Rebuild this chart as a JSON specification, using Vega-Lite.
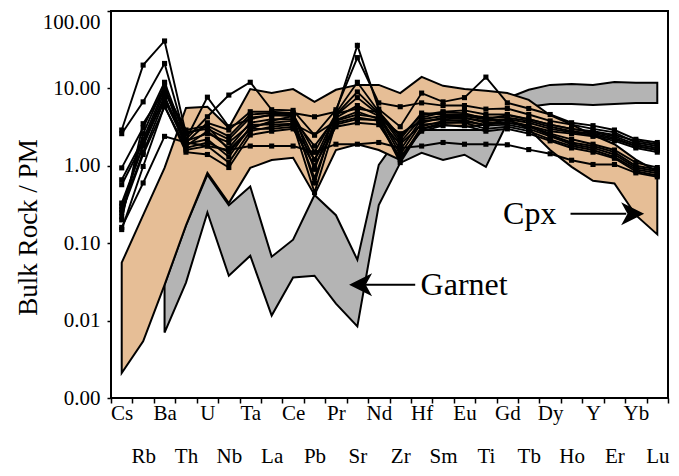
{
  "$schema": "https://vega.github.io/schema/vega-lite/v6.json",
  "width": 557,
  "height": 387,
  "autosize": "none",
  "padding": {"left": 111, "top": 11, "right": 11, "bottom": 78},
  "background": "white",
  "config": {
    "font": "Liberation Serif",
    "view": {"stroke": "black", "strokeWidth": 2}
  },
  "datasets": {
    "fields": [
      {"field": "Garnet", "el": "Ba", "lo": 0.007, "hi": 0.029},
      {"field": "Garnet", "el": "Th", "lo": 0.031, "hi": 0.17},
      {"field": "Garnet", "el": "U", "lo": 0.25, "hi": 0.77},
      {"field": "Garnet", "el": "Nb", "lo": 0.038, "hi": 0.31},
      {"field": "Garnet", "el": "Ta", "lo": 0.069, "hi": 0.54},
      {"field": "Garnet", "el": "La", "lo": 0.0116, "hi": 0.067},
      {"field": "Garnet", "el": "Ce", "lo": 0.036, "hi": 0.111},
      {"field": "Garnet", "el": "Pb", "lo": 0.038, "hi": 0.42},
      {"field": "Garnet", "el": "Pr", "lo": 0.0166, "hi": 0.23},
      {"field": "Garnet", "el": "Sr", "lo": 0.0084, "hi": 0.061},
      {"field": "Garnet", "el": "Nd", "lo": 0.31, "hi": 1.03},
      {"field": "Garnet", "el": "Zr", "lo": 1.09, "hi": 2.5},
      {"field": "Garnet", "el": "Hf", "lo": 1.47, "hi": 2.9},
      {"field": "Garnet", "el": "Sm", "lo": 1.19, "hi": 2.9},
      {"field": "Garnet", "el": "Eu", "lo": 1.39, "hi": 2.9},
      {"field": "Garnet", "el": "Ti", "lo": 0.97, "hi": 2.9},
      {"field": "Garnet", "el": "Gd", "lo": 3.6, "hi": 7.5},
      {"field": "Garnet", "el": "Tb", "lo": 5.8, "hi": 9.6},
      {"field": "Garnet", "el": "Dy", "lo": 6.3, "hi": 11.1},
      {"field": "Garnet", "el": "Ho", "lo": 6.3, "hi": 11.4},
      {"field": "Garnet", "el": "Y", "lo": 6.1, "hi": 11.1},
      {"field": "Garnet", "el": "Er", "lo": 6.3, "hi": 12.1},
      {"field": "Garnet", "el": "Yb", "lo": 6.5, "hi": 11.8},
      {"field": "Garnet", "el": "Lu", "lo": 6.5, "hi": 11.8},
      {"field": "Cpx", "el": "Cs", "lo": 0.0021, "hi": 0.056},
      {"field": "Cpx", "el": "Rb", "lo": 0.0054, "hi": 0.23},
      {"field": "Cpx", "el": "Ba", "lo": 0.029, "hi": 0.94},
      {"field": "Cpx", "el": "Th", "lo": 0.17, "hi": 5.6},
      {"field": "Cpx", "el": "U", "lo": 0.81, "hi": 5.8},
      {"field": "Cpx", "el": "Nb", "lo": 0.33, "hi": 3.1},
      {"field": "Cpx", "el": "Ta", "lo": 0.94, "hi": 9.8},
      {"field": "Cpx", "el": "La", "lo": 1.19, "hi": 8.7},
      {"field": "Cpx", "el": "Ce", "lo": 1.27, "hi": 9.8},
      {"field": "Cpx", "el": "Pb", "lo": 0.42, "hi": 6.7},
      {"field": "Cpx", "el": "Pr", "lo": 1.6, "hi": 9.6},
      {"field": "Cpx", "el": "Sr", "lo": 1.9, "hi": 11.1},
      {"field": "Cpx", "el": "Nd", "lo": 1.6, "hi": 11.1},
      {"field": "Cpx", "el": "Zr", "lo": 1.19, "hi": 8.7},
      {"field": "Cpx", "el": "Hf", "lo": 3.0, "hi": 14.1},
      {"field": "Cpx", "el": "Sm", "lo": 3.4, "hi": 10.8},
      {"field": "Cpx", "el": "Eu", "lo": 3.2, "hi": 9.8},
      {"field": "Cpx", "el": "Ti", "lo": 3.4, "hi": 9.3},
      {"field": "Cpx", "el": "Gd", "lo": 4.0, "hi": 8.7},
      {"field": "Cpx", "el": "Tb", "lo": 3.0, "hi": 7.1},
      {"field": "Cpx", "el": "Dy", "lo": 1.6, "hi": 4.5},
      {"field": "Cpx", "el": "Ho", "lo": 0.97, "hi": 3.4},
      {"field": "Cpx", "el": "Y", "lo": 0.64, "hi": 2.5},
      {"field": "Cpx", "el": "Er", "lo": 0.59, "hi": 1.9},
      {"field": "Cpx", "el": "Yb", "lo": 0.23, "hi": 1.2},
      {"field": "Cpx", "el": "Lu", "lo": 0.13, "hi": 0.84}
    ],
    "samples": [
      {"sample": "S1", "el": "Cs", "v": 2.9}, {"sample": "S1", "el": "Rb", "v": 20}, {"sample": "S1", "el": "Ba", "v": 41}, {"sample": "S1", "el": "Th", "v": 2.6}, {"sample": "S1", "el": "U", "v": 3.2}, {"sample": "S1", "el": "Nb", "v": 1.6}, {"sample": "S1", "el": "Ta", "v": 3.0}, {"sample": "S1", "el": "La", "v": 3.8}, {"sample": "S1", "el": "Ce", "v": 4.4}, {"sample": "S1", "el": "Pb", "v": 1.2}, {"sample": "S1", "el": "Pr", "v": 4.6}, {"sample": "S1", "el": "Sr", "v": 9.0}, {"sample": "S1", "el": "Nd", "v": 4.8}, {"sample": "S1", "el": "Zr", "v": 2.0}, {"sample": "S1", "el": "Hf", "v": 4.2}, {"sample": "S1", "el": "Sm", "v": 4.9}, {"sample": "S1", "el": "Eu", "v": 4.8}, {"sample": "S1", "el": "Ti", "v": 4.0}, {"sample": "S1", "el": "Gd", "v": 4.5}, {"sample": "S1", "el": "Tb", "v": 4.0}, {"sample": "S1", "el": "Dy", "v": 3.4}, {"sample": "S1", "el": "Ho", "v": 3.0}, {"sample": "S1", "el": "Y", "v": 2.8}, {"sample": "S1", "el": "Er", "v": 2.5}, {"sample": "S1", "el": "Yb", "v": 2.1}, {"sample": "S1", "el": "Lu", "v": 1.9},
      {"sample": "S2", "el": "Cs", "v": 2.6}, {"sample": "S2", "el": "Rb", "v": 6.7}, {"sample": "S2", "el": "Ba", "v": 21}, {"sample": "S2", "el": "Th", "v": 2.2}, {"sample": "S2", "el": "U", "v": 7.7}, {"sample": "S2", "el": "Nb", "v": 3.2}, {"sample": "S2", "el": "Ta", "v": 4.0}, {"sample": "S2", "el": "La", "v": 4.6}, {"sample": "S2", "el": "Ce", "v": 4.8}, {"sample": "S2", "el": "Pb", "v": 4.3}, {"sample": "S2", "el": "Pr", "v": 5.0}, {"sample": "S2", "el": "Sr", "v": 36}, {"sample": "S2", "el": "Nd", "v": 5.4}, {"sample": "S2", "el": "Zr", "v": 3.2}, {"sample": "S2", "el": "Hf", "v": 8.7}, {"sample": "S2", "el": "Sm", "v": 6.7}, {"sample": "S2", "el": "Eu", "v": 7.6}, {"sample": "S2", "el": "Ti", "v": 14}, {"sample": "S2", "el": "Gd", "v": 6.5}, {"sample": "S2", "el": "Tb", "v": 5.5}, {"sample": "S2", "el": "Dy", "v": 4.6}, {"sample": "S2", "el": "Ho", "v": 3.6}, {"sample": "S2", "el": "Y", "v": 3.3}, {"sample": "S2", "el": "Er", "v": 2.9}, {"sample": "S2", "el": "Yb", "v": 2.2}, {"sample": "S2", "el": "Lu", "v": 2.0},
      {"sample": "S3", "el": "Cs", "v": 0.94}, {"sample": "S3", "el": "Rb", "v": 3.1}, {"sample": "S3", "el": "Ba", "v": 12}, {"sample": "S3", "el": "Th", "v": 2.2}, {"sample": "S3", "el": "U", "v": 4.3}, {"sample": "S3", "el": "Nb", "v": 8.2}, {"sample": "S3", "el": "Ta", "v": 12}, {"sample": "S3", "el": "La", "v": 5.3}, {"sample": "S3", "el": "Ce", "v": 5.2}, {"sample": "S3", "el": "Pb", "v": 2.5}, {"sample": "S3", "el": "Pr", "v": 5.3}, {"sample": "S3", "el": "Sr", "v": 25}, {"sample": "S3", "el": "Nd", "v": 6.5}, {"sample": "S3", "el": "Zr", "v": 5.8}, {"sample": "S3", "el": "Hf", "v": 6.5}, {"sample": "S3", "el": "Sm", "v": 6.0}, {"sample": "S3", "el": "Eu", "v": 6.0}, {"sample": "S3", "el": "Ti", "v": 5.4}, {"sample": "S3", "el": "Gd", "v": 5.5}, {"sample": "S3", "el": "Tb", "v": 4.6}, {"sample": "S3", "el": "Dy", "v": 3.8}, {"sample": "S3", "el": "Ho", "v": 3.4}, {"sample": "S3", "el": "Y", "v": 3.0}, {"sample": "S3", "el": "Er", "v": 2.7}, {"sample": "S3", "el": "Yb", "v": 2.0}, {"sample": "S3", "el": "Lu", "v": 1.8},
      {"sample": "S4", "el": "Cs", "v": 0.66}, {"sample": "S4", "el": "Rb", "v": 2.2}, {"sample": "S4", "el": "Ba", "v": 10}, {"sample": "S4", "el": "Th", "v": 2.0}, {"sample": "S4", "el": "U", "v": 3.6}, {"sample": "S4", "el": "Nb", "v": 2.9}, {"sample": "S4", "el": "Ta", "v": 5.0}, {"sample": "S4", "el": "La", "v": 5.0}, {"sample": "S4", "el": "Ce", "v": 4.8}, {"sample": "S4", "el": "Pb", "v": 0.9}, {"sample": "S4", "el": "Pr", "v": 4.8}, {"sample": "S4", "el": "Sr", "v": 12}, {"sample": "S4", "el": "Nd", "v": 5.0}, {"sample": "S4", "el": "Zr", "v": 2.4}, {"sample": "S4", "el": "Hf", "v": 4.5}, {"sample": "S4", "el": "Sm", "v": 5.0}, {"sample": "S4", "el": "Eu", "v": 5.2}, {"sample": "S4", "el": "Ti", "v": 4.6}, {"sample": "S4", "el": "Gd", "v": 4.6}, {"sample": "S4", "el": "Tb", "v": 4.0}, {"sample": "S4", "el": "Dy", "v": 3.4}, {"sample": "S4", "el": "Ho", "v": 3.0}, {"sample": "S4", "el": "Y", "v": 2.7}, {"sample": "S4", "el": "Er", "v": 2.4}, {"sample": "S4", "el": "Yb", "v": 1.9}, {"sample": "S4", "el": "Lu", "v": 1.7},
      {"sample": "S5", "el": "Cs", "v": 0.57}, {"sample": "S5", "el": "Rb", "v": 2.0}, {"sample": "S5", "el": "Ba", "v": 9.0}, {"sample": "S5", "el": "Th", "v": 2.7}, {"sample": "S5", "el": "U", "v": 3.0}, {"sample": "S5", "el": "Nb", "v": 2.2}, {"sample": "S5", "el": "Ta", "v": 4.2}, {"sample": "S5", "el": "La", "v": 4.5}, {"sample": "S5", "el": "Ce", "v": 4.4}, {"sample": "S5", "el": "Pb", "v": 0.6}, {"sample": "S5", "el": "Pr", "v": 4.5}, {"sample": "S5", "el": "Sr", "v": 7.6}, {"sample": "S5", "el": "Nd", "v": 4.6}, {"sample": "S5", "el": "Zr", "v": 1.6}, {"sample": "S5", "el": "Hf", "v": 4.0}, {"sample": "S5", "el": "Sm", "v": 4.4}, {"sample": "S5", "el": "Eu", "v": 4.4}, {"sample": "S5", "el": "Ti", "v": 4.0}, {"sample": "S5", "el": "Gd", "v": 3.8}, {"sample": "S5", "el": "Tb", "v": 3.3}, {"sample": "S5", "el": "Dy", "v": 2.6}, {"sample": "S5", "el": "Ho", "v": 2.2}, {"sample": "S5", "el": "Y", "v": 1.9}, {"sample": "S5", "el": "Er", "v": 1.6}, {"sample": "S5", "el": "Yb", "v": 1.1}, {"sample": "S5", "el": "Lu", "v": 0.95},
      {"sample": "S6", "el": "Cs", "v": 0.33}, {"sample": "S6", "el": "Rb", "v": 1.8}, {"sample": "S6", "el": "Ba", "v": 8.0}, {"sample": "S6", "el": "Th", "v": 1.8}, {"sample": "S6", "el": "U", "v": 2.8}, {"sample": "S6", "el": "Nb", "v": 1.7}, {"sample": "S6", "el": "Ta", "v": 3.6}, {"sample": "S6", "el": "La", "v": 4.0}, {"sample": "S6", "el": "Ce", "v": 4.0}, {"sample": "S6", "el": "Pb", "v": 1.8}, {"sample": "S6", "el": "Pr", "v": 4.2}, {"sample": "S6", "el": "Sr", "v": 6.0}, {"sample": "S6", "el": "Nd", "v": 4.4}, {"sample": "S6", "el": "Zr", "v": 1.4}, {"sample": "S6", "el": "Hf", "v": 3.6}, {"sample": "S6", "el": "Sm", "v": 4.2}, {"sample": "S6", "el": "Eu", "v": 4.2}, {"sample": "S6", "el": "Ti", "v": 3.6}, {"sample": "S6", "el": "Gd", "v": 3.6}, {"sample": "S6", "el": "Tb", "v": 3.2}, {"sample": "S6", "el": "Dy", "v": 2.5}, {"sample": "S6", "el": "Ho", "v": 2.0}, {"sample": "S6", "el": "Y", "v": 1.8}, {"sample": "S6", "el": "Er", "v": 1.5}, {"sample": "S6", "el": "Yb", "v": 1.0}, {"sample": "S6", "el": "Lu", "v": 0.9},
      {"sample": "S7", "el": "Cs", "v": 0.27}, {"sample": "S7", "el": "Rb", "v": 1.5}, {"sample": "S7", "el": "Ba", "v": 7.0}, {"sample": "S7", "el": "Th", "v": 1.9}, {"sample": "S7", "el": "U", "v": 2.2}, {"sample": "S7", "el": "Nb", "v": 1.3}, {"sample": "S7", "el": "Ta", "v": 3.2}, {"sample": "S7", "el": "La", "v": 3.6}, {"sample": "S7", "el": "Ce", "v": 3.8}, {"sample": "S7", "el": "Pb", "v": 0.7}, {"sample": "S7", "el": "Pr", "v": 3.9}, {"sample": "S7", "el": "Sr", "v": 5.0}, {"sample": "S7", "el": "Nd", "v": 4.0}, {"sample": "S7", "el": "Zr", "v": 1.2}, {"sample": "S7", "el": "Hf", "v": 3.2}, {"sample": "S7", "el": "Sm", "v": 3.8}, {"sample": "S7", "el": "Eu", "v": 3.9}, {"sample": "S7", "el": "Ti", "v": 3.3}, {"sample": "S7", "el": "Gd", "v": 3.4}, {"sample": "S7", "el": "Tb", "v": 3.0}, {"sample": "S7", "el": "Dy", "v": 2.4}, {"sample": "S7", "el": "Ho", "v": 1.9}, {"sample": "S7", "el": "Y", "v": 1.7}, {"sample": "S7", "el": "Er", "v": 1.4}, {"sample": "S7", "el": "Yb", "v": 0.95}, {"sample": "S7", "el": "Lu", "v": 0.85},
      {"sample": "S8", "el": "Cs", "v": 0.22}, {"sample": "S8", "el": "Rb", "v": 2.6}, {"sample": "S8", "el": "Ba", "v": 11}, {"sample": "S8", "el": "Th", "v": 1.6}, {"sample": "S8", "el": "U", "v": 1.8}, {"sample": "S8", "el": "Nb", "v": 1.1}, {"sample": "S8", "el": "Ta", "v": 2.8}, {"sample": "S8", "el": "La", "v": 3.2}, {"sample": "S8", "el": "Ce", "v": 3.4}, {"sample": "S8", "el": "Pb", "v": 0.45}, {"sample": "S8", "el": "Pr", "v": 3.6}, {"sample": "S8", "el": "Sr", "v": 4.2}, {"sample": "S8", "el": "Nd", "v": 3.8}, {"sample": "S8", "el": "Zr", "v": 1.1}, {"sample": "S8", "el": "Hf", "v": 3.0}, {"sample": "S8", "el": "Sm", "v": 3.6}, {"sample": "S8", "el": "Eu", "v": 3.6}, {"sample": "S8", "el": "Ti", "v": 3.0}, {"sample": "S8", "el": "Gd", "v": 3.2}, {"sample": "S8", "el": "Tb", "v": 2.8}, {"sample": "S8", "el": "Dy", "v": 2.2}, {"sample": "S8", "el": "Ho", "v": 1.8}, {"sample": "S8", "el": "Y", "v": 1.6}, {"sample": "S8", "el": "Er", "v": 1.3}, {"sample": "S8", "el": "Yb", "v": 0.9}, {"sample": "S8", "el": "Lu", "v": 0.8},
      {"sample": "S9", "el": "Cs", "v": 0.15}, {"sample": "S9", "el": "Rb", "v": 0.98}, {"sample": "S9", "el": "Ba", "v": 6.0}, {"sample": "S9", "el": "Th", "v": 1.5}, {"sample": "S9", "el": "U", "v": 1.4}, {"sample": "S9", "el": "Nb", "v": 0.95}, {"sample": "S9", "el": "Ta", "v": 2.5}, {"sample": "S9", "el": "La", "v": 2.8}, {"sample": "S9", "el": "Ce", "v": 3.0}, {"sample": "S9", "el": "Pb", "v": 1.0}, {"sample": "S9", "el": "Pr", "v": 3.2}, {"sample": "S9", "el": "Sr", "v": 3.6}, {"sample": "S9", "el": "Nd", "v": 3.4}, {"sample": "S9", "el": "Zr", "v": 1.3}, {"sample": "S9", "el": "Hf", "v": 2.8}, {"sample": "S9", "el": "Sm", "v": 3.3}, {"sample": "S9", "el": "Eu", "v": 3.3}, {"sample": "S9", "el": "Ti", "v": 2.8}, {"sample": "S9", "el": "Gd", "v": 3.0}, {"sample": "S9", "el": "Tb", "v": 2.6}, {"sample": "S9", "el": "Dy", "v": 2.1}, {"sample": "S9", "el": "Ho", "v": 1.7}, {"sample": "S9", "el": "Y", "v": 1.5}, {"sample": "S9", "el": "Er", "v": 1.25}, {"sample": "S9", "el": "Yb", "v": 0.85}, {"sample": "S9", "el": "Lu", "v": 0.75},
      {"sample": "S10", "el": "Cs", "v": 0.2}, {"sample": "S10", "el": "Rb", "v": 3.5}, {"sample": "S10", "el": "Ba", "v": 9.5}, {"sample": "S10", "el": "Th", "v": 2.9}, {"sample": "S10", "el": "U", "v": 3.3}, {"sample": "S10", "el": "Nb", "v": 2.4}, {"sample": "S10", "el": "Ta", "v": 4.6}, {"sample": "S10", "el": "La", "v": 4.8}, {"sample": "S10", "el": "Ce", "v": 4.6}, {"sample": "S10", "el": "Pb", "v": 1.5}, {"sample": "S10", "el": "Pr", "v": 4.7}, {"sample": "S10", "el": "Sr", "v": 5.5}, {"sample": "S10", "el": "Nd", "v": 4.9}, {"sample": "S10", "el": "Zr", "v": 2.2}, {"sample": "S10", "el": "Hf", "v": 4.8}, {"sample": "S10", "el": "Sm", "v": 4.6}, {"sample": "S10", "el": "Eu", "v": 4.6}, {"sample": "S10", "el": "Ti", "v": 4.2}, {"sample": "S10", "el": "Gd", "v": 4.2}, {"sample": "S10", "el": "Tb", "v": 3.8}, {"sample": "S10", "el": "Dy", "v": 3.2}, {"sample": "S10", "el": "Ho", "v": 2.8}, {"sample": "S10", "el": "Y", "v": 2.6}, {"sample": "S10", "el": "Er", "v": 2.3}, {"sample": "S10", "el": "Yb", "v": 1.8}, {"sample": "S10", "el": "Lu", "v": 1.6},
      {"sample": "S11", "el": "Cs", "v": 0.3}, {"sample": "S11", "el": "Rb", "v": 1.9}, {"sample": "S11", "el": "Ba", "v": 7.5}, {"sample": "S11", "el": "Th", "v": 2.1}, {"sample": "S11", "el": "U", "v": 2.6}, {"sample": "S11", "el": "Nb", "v": 2.0}, {"sample": "S11", "el": "Ta", "v": 3.4}, {"sample": "S11", "el": "La", "v": 3.4}, {"sample": "S11", "el": "Ce", "v": 3.5}, {"sample": "S11", "el": "Pb", "v": 2.5}, {"sample": "S11", "el": "Pr", "v": 3.8}, {"sample": "S11", "el": "Sr", "v": 4.6}, {"sample": "S11", "el": "Nd", "v": 4.2}, {"sample": "S11", "el": "Zr", "v": 2.6}, {"sample": "S11", "el": "Hf", "v": 3.8}, {"sample": "S11", "el": "Sm", "v": 4.0}, {"sample": "S11", "el": "Eu", "v": 4.1}, {"sample": "S11", "el": "Ti", "v": 3.8}, {"sample": "S11", "el": "Gd", "v": 4.0}, {"sample": "S11", "el": "Tb", "v": 3.6}, {"sample": "S11", "el": "Dy", "v": 3.0}, {"sample": "S11", "el": "Ho", "v": 2.7}, {"sample": "S11", "el": "Y", "v": 2.5}, {"sample": "S11", "el": "Er", "v": 2.2}, {"sample": "S11", "el": "Yb", "v": 1.8}, {"sample": "S11", "el": "Lu", "v": 1.6},
      {"sample": "S12", "el": "Cs", "v": 0.25}, {"sample": "S12", "el": "Rb", "v": 1.4}, {"sample": "S12", "el": "Ba", "v": 5.8}, {"sample": "S12", "el": "Th", "v": 1.7}, {"sample": "S12", "el": "U", "v": 2.0}, {"sample": "S12", "el": "Nb", "v": 1.5}, {"sample": "S12", "el": "Ta", "v": 3.0}, {"sample": "S12", "el": "La", "v": 3.0}, {"sample": "S12", "el": "Ce", "v": 3.2}, {"sample": "S12", "el": "Pb", "v": 1.2}, {"sample": "S12", "el": "Pr", "v": 3.4}, {"sample": "S12", "el": "Sr", "v": 4.0}, {"sample": "S12", "el": "Nd", "v": 3.9}, {"sample": "S12", "el": "Zr", "v": 1.9}, {"sample": "S12", "el": "Hf", "v": 3.4}, {"sample": "S12", "el": "Sm", "v": 3.6}, {"sample": "S12", "el": "Eu", "v": 3.7}, {"sample": "S12", "el": "Ti", "v": 3.4}, {"sample": "S12", "el": "Gd", "v": 3.6}, {"sample": "S12", "el": "Tb", "v": 3.3}, {"sample": "S12", "el": "Dy", "v": 2.8}, {"sample": "S12", "el": "Ho", "v": 2.6}, {"sample": "S12", "el": "Y", "v": 2.4}, {"sample": "S12", "el": "Er", "v": 2.1}, {"sample": "S12", "el": "Yb", "v": 1.7}, {"sample": "S12", "el": "Lu", "v": 1.5},
      {"sample": "S13", "el": "Cs", "v": 0.16}, {"sample": "S13", "el": "Rb", "v": 0.6}, {"sample": "S13", "el": "Ba", "v": 2.4}, {"sample": "S13", "el": "Th", "v": 2.0}, {"sample": "S13", "el": "U", "v": 1.8}, {"sample": "S13", "el": "Nb", "v": 1.6}, {"sample": "S13", "el": "Ta", "v": 1.8}, {"sample": "S13", "el": "La", "v": 1.8}, {"sample": "S13", "el": "Ce", "v": 1.8}, {"sample": "S13", "el": "Pb", "v": 1.5}, {"sample": "S13", "el": "Pr", "v": 1.9}, {"sample": "S13", "el": "Sr", "v": 1.9}, {"sample": "S13", "el": "Nd", "v": 2.0}, {"sample": "S13", "el": "Zr", "v": 1.7}, {"sample": "S13", "el": "Hf", "v": 1.8}, {"sample": "S13", "el": "Sm", "v": 2.0}, {"sample": "S13", "el": "Eu", "v": 1.9}, {"sample": "S13", "el": "Ti", "v": 1.9}, {"sample": "S13", "el": "Gd", "v": 1.87}, {"sample": "S13", "el": "Tb", "v": 1.62}, {"sample": "S13", "el": "Dy", "v": 1.43}, {"sample": "S13", "el": "Ho", "v": 1.18}, {"sample": "S13", "el": "Y", "v": 1.04}, {"sample": "S13", "el": "Er", "v": 1.04}, {"sample": "S13", "el": "Yb", "v": 0.81}, {"sample": "S13", "el": "Lu", "v": 0.72}
    ],
    "notes": [
      {"label": "Garnet", "head": 11.65, "from": 11.9, "to": 14.2, "tx": 14.45, "y": 0.029},
      {"label": "Cpx", "head": 24.35, "from": 21.45, "to": 24.05, "tx": 18.3, "y": 0.24}
    ]
  },
  "layer": [
    {
      "layer": [
        {
          "data": {"name": "fields"},
          "transform": [{"filter": "datum.field === 'Garnet'"}],
          "mark": {"type": "area", "fill": "#B4B4B4", "fillOpacity": 1, "stroke": "black", "strokeWidth": 2, "strokeJoin": "miter"},
          "encoding": {
            "x": {
              "field": "el", "type": "nominal", "bandPosition": 0.5,
              "sort": ["Cs","Rb","Ba","Th","U","Nb","Ta","La","Ce","Pb","Pr","Sr","Nd","Zr","Hf","Sm","Eu","Ti","Gd","Tb","Dy","Ho","Y","Er","Yb","Lu"],
              "scale": {"type": "band", "paddingInner": 0, "paddingOuter": 0,
                "domain": ["Cs","Rb","Ba","Th","U","Nb","Ta","La","Ce","Pb","Pr","Sr","Nd","Zr","Hf","Sm","Eu","Ti","Gd","Tb","Dy","Ho","Y","Er","Yb","Lu"]},
              "axis": {
                "title": null, "domain": false, "grid": false,
                "ticks": true, "tickBand": "extent", "tickSize": 5, "tickWidth": 1.5, "tickColor": "black",
                "labelFont": "Liberation Serif", "labelFontSize": 21, "labelColor": "black",
                "labelPadding": -1, "labelLineHeight": 43, "labelAngle": 0,
                "labelExpr": "indexof(['Rb','Th','Nb','La','Pb','Sr','Zr','Sm','Ti','Tb','Ho','Er','Lu'], datum.value) >= 0 ? ['', datum.value] : datum.value"
              }
            },
            "y": {
              "field": "hi", "type": "quantitative",
              "scale": {"type": "log", "domain": [0.001, 100], "nice": false},
              "axis": {
                "title": "Bulk Rock / PM", "titleFont": "Liberation Serif", "titleFontSize": 27, "titleFontWeight": "normal", "titleColor": "black",
                "titleX": -75, "titleY": 216, "titleBaseline": "alphabetic", "titleAngle": -90,
                "domain": false, "grid": false, "values": [0.001, 0.01, 0.1, 1, 10, 100], "format": ".2f",
                "tickSize": 4, "tickWidth": 1.5, "tickColor": "black",
                "labelFont": "Liberation Serif", "labelFontSize": 21, "labelColor": "black", "labelPadding": 7,
                "labelBaseline": {"condition": {"test": "datum.value >= 100", "value": "top"}, "value": "middle"}
              }
            },
            "y2": {"field": "lo"}
          }
        },
        {
          "data": {"name": "fields"},
          "transform": [{"filter": "datum.field === 'Cpx'"}],
          "mark": {"type": "area", "fill": "#E6BE96", "fillOpacity": 1, "stroke": "black", "strokeWidth": 2, "strokeJoin": "miter"},
          "encoding": {
            "x": {
              "field": "el", "type": "nominal", "bandPosition": 0.5, "title": null,
              "sort": ["Cs","Rb","Ba","Th","U","Nb","Ta","La","Ce","Pb","Pr","Sr","Nd","Zr","Hf","Sm","Eu","Ti","Gd","Tb","Dy","Ho","Y","Er","Yb","Lu"]
            },
            "y": {"field": "hi", "type": "quantitative", "title": "Bulk Rock / PM"},
            "y2": {"field": "lo"}
          }
        },
        {
          "data": {"name": "samples"},
          "mark": {"type": "line", "color": "black", "strokeWidth": 1.9, "strokeJoin": "miter",
            "point": {"shape": "square", "filled": true, "size": 26, "color": "black"}},
          "encoding": {
            "x": {
              "field": "el", "type": "nominal", "bandPosition": 0.5, "title": null,
              "sort": ["Cs","Rb","Ba","Th","U","Nb","Ta","La","Ce","Pb","Pr","Sr","Nd","Zr","Hf","Sm","Eu","Ti","Gd","Tb","Dy","Ho","Y","Er","Yb","Lu"]
            },
            "y": {"field": "v", "type": "quantitative", "title": "Bulk Rock / PM"},
            "detail": {"field": "sample"}
          }
        }
      ]
    },
    {
      "data": {"name": "notes"},
      "layer": [
        {
          "mark": {"type": "rule", "color": "black", "strokeWidth": 2},
          "encoding": {
            "x": {"field": "from", "type": "quantitative", "scale": {"domain": [0, 26], "nice": false, "zero": false}, "axis": null},
            "x2": {"field": "to"},
            "y": {"field": "y", "type": "quantitative", "title": "Bulk Rock / PM"}
          }
        },
        {
          "mark": {"type": "point", "filled": true, "color": "black", "opacity": 1, "size": 530},
          "encoding": {
            "x": {"field": "head", "type": "quantitative", "scale": {"domain": [0, 26], "nice": false, "zero": false}, "axis": null},
            "y": {"field": "y", "type": "quantitative", "title": "Bulk Rock / PM"},
            "shape": {"field": "label", "type": "nominal", "legend": null,
              "scale": {"domain": ["Garnet", "Cpx"], "range": ["M-1,0L1,-1L0.45,0L1,1Z", "M1,0L-1,-1L-0.45,0L-1,1Z"]}}
          }
        },
        {
          "mark": {"type": "text", "font": "Liberation Serif", "fontSize": 32, "align": "left", "baseline": "middle", "color": "black"},
          "encoding": {
            "x": {"field": "tx", "type": "quantitative", "scale": {"domain": [0, 26], "nice": false, "zero": false}, "axis": null},
            "y": {"field": "y", "type": "quantitative", "title": "Bulk Rock / PM"},
            "text": {"field": "label"}
          }
        }
      ]
    }
  ],
  "resolve": {"scale": {"x": "independent"}}
}
